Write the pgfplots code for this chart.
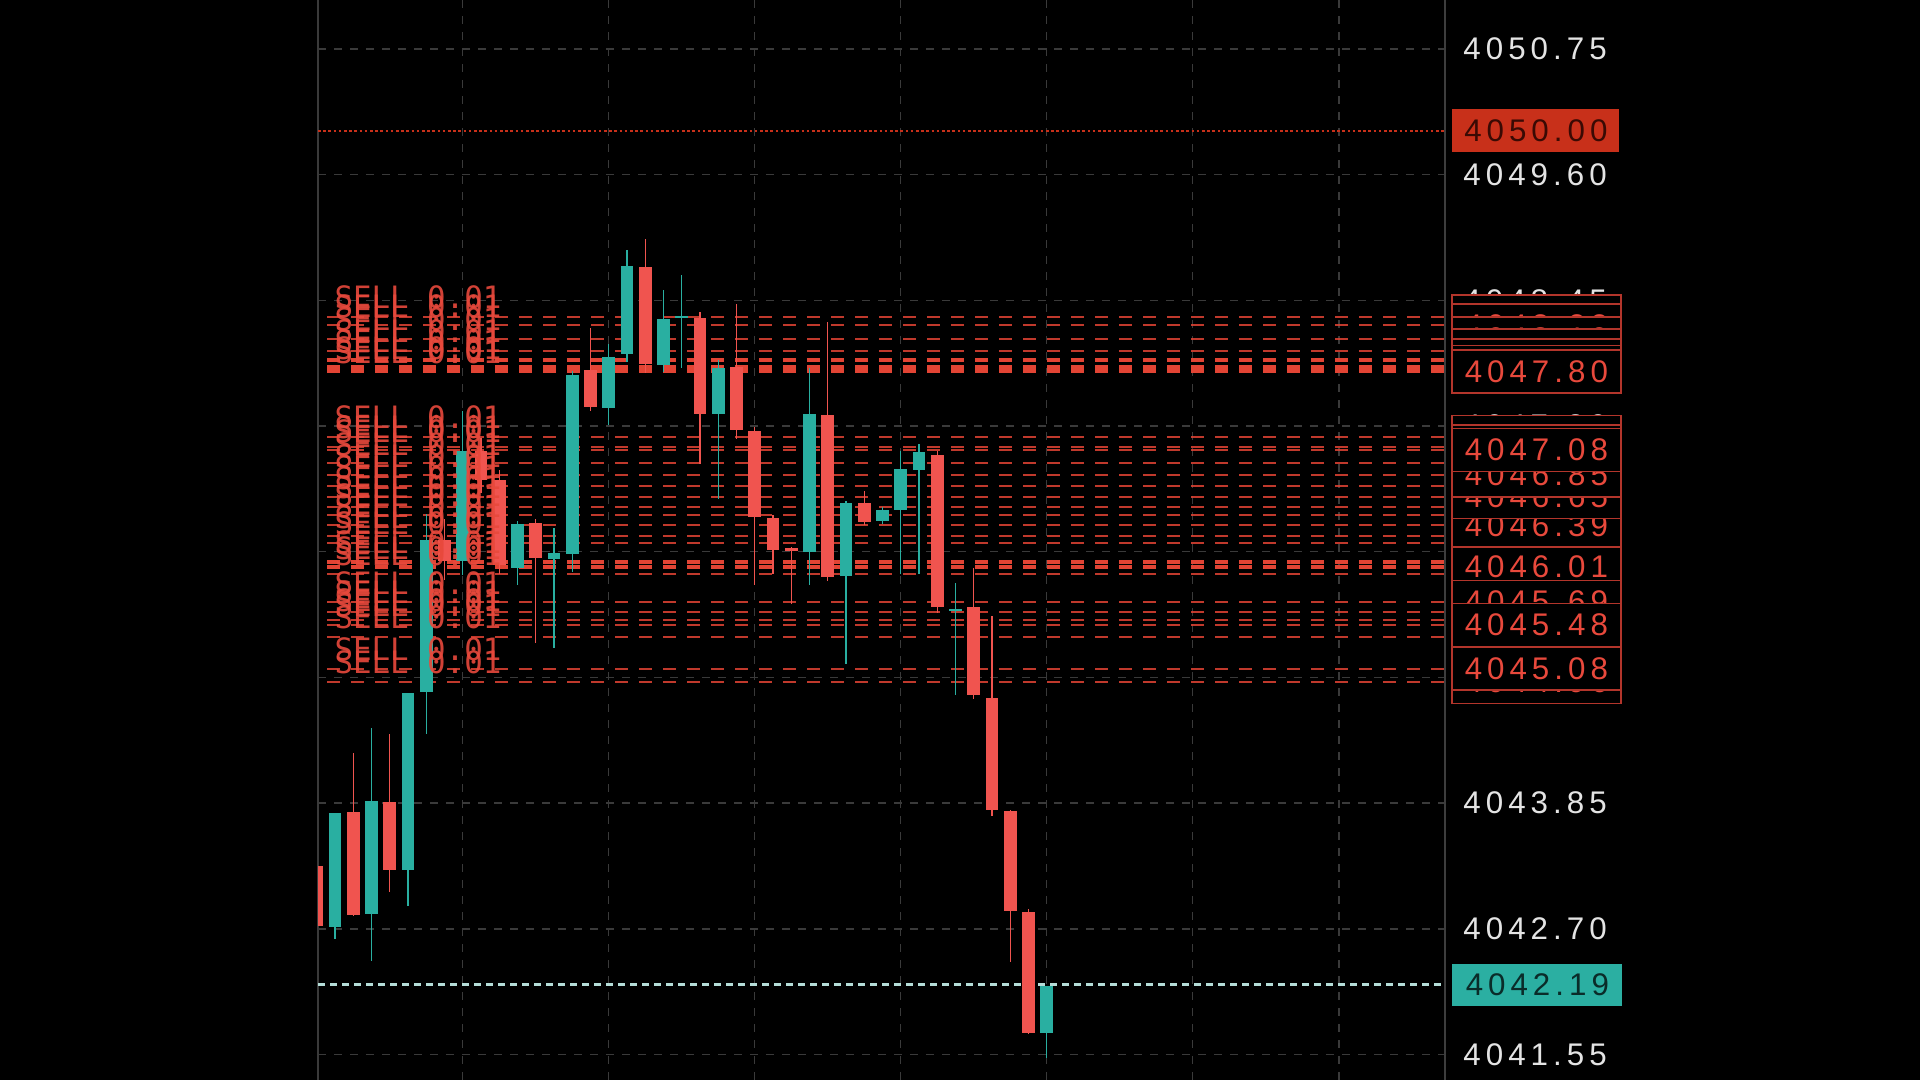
\documentclass[border=0pt]{standalone}
\usepackage{pgfplots}
\pgfplotsset{compat=1.18}
\usepackage{pgfplotstable}
\usepackage{fontspec}
\setmainfont{Liberation Sans}
\newfontfamily\pricefont{Liberation Sans}[LetterSpace=16]
\newfontfamily\sellfont{DejaVu Sans Mono}
\definecolor{bear}{HTML}{F0544F}
\definecolor{bull}{HTML}{29AFA1}
\definecolor{ordc}{HTML}{E24434}
\definecolor{ordtxt}{HTML}{E8493C}
\definecolor{boxedge}{HTML}{B3352B}
\definecolor{gridc}{HTML}{3A3A3A}
\definecolor{tickc}{HTML}{E4E4E4}
\definecolor{sellbox}{HTML}{C8301A}
\definecolor{sellboxtxt}{HTML}{3A0A04}
\definecolor{lastbox}{HTML}{2BAFA2}
\definecolor{lastboxtxt}{HTML}{0A2C29}
\definecolor{lastline}{HTML}{B5DDD8}

% bearish candles: index open high low close
\pgfplotstableread{
x o h l c
0  4043.28 4043.28 4042.73 4042.73
2  4043.78 4044.31 4042.82 4042.84
4  4043.87 4044.49 4043.04 4043.24
7  4046.26 4046.45 4045.90 4046.07
9  4047.08 4047.20 4046.70 4046.81
10 4046.81 4046.90 4045.95 4046.03
12 4046.41 4046.45 4045.32 4046.09
15 4047.81 4048.21 4047.45 4047.47
18 4048.76 4049.03 4047.80 4047.87
21 4048.30 4048.35 4046.96 4047.42
23 4047.84 4048.44 4047.20 4047.26
24 4047.26 4047.30 4045.86 4046.47
25 4046.47 4046.50 4045.96 4046.18
26 4046.19 4046.20 4045.68 4046.16
28 4047.42 4048.27 4045.90 4045.93
30 4046.61 4046.72 4046.40 4046.43
34 4047.04 4047.08 4045.60 4045.65
36 4045.65 4046.00 4044.80 4044.84
37 4044.82 4045.57 4043.74 4043.79
38 4043.78 4043.80 4042.41 4042.86
39 4042.86 4042.89 4041.74 4041.76
}\beartab

% bullish candles
\pgfplotstableread{
x o h l c
1  4042.73 4043.77 4042.62 4043.77
3  4042.84 4044.55 4042.42 4043.87
5  4043.25 4044.87 4042.92 4044.87
6  4044.87 4046.50 4044.49 4046.26
8  4046.07 4047.45 4045.95 4047.08
11 4046.01 4046.45 4045.86 4046.41
13 4046.09 4046.38 4045.28 4046.14
14 4046.14 4047.80 4045.96 4047.78
16 4047.47 4048.06 4047.31 4047.94
17 4047.95 4048.93 4047.90 4048.76
19 4047.87 4048.55 4047.80 4048.29
20 4048.29 4048.70 4047.85 4048.31
22 4047.42 4047.92 4046.65 4047.84
27 4046.16 4047.84 4045.86 4047.42
29 4045.93 4046.62 4045.13 4046.60
31 4046.43 4046.56 4046.40 4046.53
32 4046.54 4047.08 4045.96 4046.91
33 4046.91 4047.14 4045.95 4047.08
35 4045.62 4045.86 4044.84 4045.64
40 4041.76 4042.19 4041.53 4042.19
}\bulltab

\newcommand{\pf}{\pricefont\fontsize{15.65}{18}\selectfont}

\begin{document}
\begin{tikzpicture}
\useasboundingbox (0,0) rectangle (960pt,540pt);
\fill[black] (0,0) rectangle (960pt,540pt);
\begin{axis}[
  at={(159pt,0pt)}, anchor=south west,
  width=563.5pt, height=540pt, scale only axis,
  xmin=0.068, xmax=61.82, ymin=4041.317, ymax=4051.198,
  clip mode=individual,
  axis line style={draw=none},
  xtick={8,16,24,32,40,48,56}, xticklabels={},
  ytick={4041.55,4042.70,4043.85,4045.00,4046.15,4047.30,4048.45,4049.60,4050.75},
  yticklabels={},
  major tick length=0pt,
  xmajorgrids, ymajorgrids,
  grid style={gridc, line width=0.7pt, dash pattern=on 4pt off 4pt},
]
% borders
\draw[gridc, line width=0.6pt] (rel axis cs:0,0) -- (rel axis cs:0,1);
\draw[black!60!white!60!black, line width=0.8pt] (rel axis cs:1,0) -- (rel axis cs:1,1);

% pending SELL order levels
\pgfplotsinvokeforeach{4048.30,4048.22,4048.10,4047.99,4047.20,4047.11,4047.08,4046.96,4046.85,4046.75,4046.65,4046.56,4046.49,4046.39,4046.29,4046.23,4045.95,4045.69,4045.60,4045.53,4045.48,4045.37,4045.08,4044.96}{
  \draw[ordc, line width=1pt, opacity=0.85, dash pattern=on 6.5pt off 5.5pt, dash phase=7.5pt] (axis cs:0.068,#1) -- (axis cs:61.82,#1);
}
\pgfplotsinvokeforeach{4047.90,4047.84,4047.80,4046.06,4046.01}{
  \draw[ordc, line width=2pt, dash pattern=on 6.5pt off 5.5pt, dash phase=7.5pt] (axis cs:0.068,#1) -- (axis cs:61.82,#1);
}

% ask / last price lines
\draw[sellbox, line width=1.2pt, dash pattern=on 1.3pt off 1.3pt] (axis cs:0.068,4050.00) -- (axis cs:61.82,4050.00);
\draw[lastline, line width=1.3pt, dash pattern=on 3.5pt off 2.5pt] (axis cs:0.068,4042.19) -- (axis cs:61.82,4042.19);

% wicks
\addplot[draw=none, forget plot, error bars/.cd, y dir=both, y explicit, error mark=none,
  error bar style={line width=0.6pt, draw=bear}]
  table[x=x, y expr={(\thisrow{h}+\thisrow{l})/2}, y error expr={(\thisrow{h}-\thisrow{l})/2}] {\beartab};
\addplot[draw=none, forget plot, error bars/.cd, y dir=both, y explicit, error mark=none,
  error bar style={line width=0.6pt, draw=bull}]
  table[x=x, y expr={(\thisrow{h}+\thisrow{l})/2}, y error expr={(\thisrow{h}-\thisrow{l})/2}] {\bulltab};
% bodies
\addplot[draw=none, forget plot, error bars/.cd, y dir=both, y explicit, error mark=none,
  error bar style={line width=6.4pt, draw=bear}]
  table[x=x, y expr={(\thisrow{o}+\thisrow{c})/2}, y error expr={abs(\thisrow{o}-\thisrow{c})/2}] {\beartab};
\addplot[draw=none, forget plot, error bars/.cd, y dir=both, y explicit, error mark=none,
  error bar style={line width=6.4pt, draw=bull}]
  table[x=x, y expr={(\thisrow{o}+\thisrow{c})/2}, y error expr={abs(\thisrow{o}-\thisrow{c})/2}] {\bulltab};

% SELL labels
\pgfplotsinvokeforeach{4048.30,4048.22,4048.10,4047.99,4047.90,4047.84,4047.80,4047.20,4047.11,4047.08,4046.96,4046.85,4046.75,4046.65,4046.56,4046.49,4046.39,4046.29,4046.23,4046.06,4046.01,4045.95,4045.69,4045.60,4045.53,4045.48,4045.37,4045.08,4044.96}{
  \node[anchor=base west, inner sep=0pt, text=ordtxt, opacity=0.9, yshift=4pt,
    font=\sellfont\fontsize{15.4}{16}\selectfont] at (axis cs:0.95,#1) {SELL 0.01};
}

% price scale labels
\pgfplotsinvokeforeach{4041.55,4042.70,4043.85,4045.00,4046.15,4047.30,4048.45,4049.60,4050.75}{
  \node[anchor=west, inner sep=0pt, text=tickc, font=\pf] at (axis cs:62.81,#1) {#1};
}

% order price boxes
\pgfplotsinvokeforeach{4048.30,4048.22,4048.10,4047.99,4047.90,4047.84,4047.80,4045.95,4046.06,4046.29,4046.23,4046.01,4046.56,4046.49,4046.39,4046.75,4046.65,4046.85,4047.20,4047.11,4047.08,4045.37,4045.53,4045.60,4045.69,4045.48,4044.96,4045.08}{
  \node[anchor=west, draw=boxedge, line width=0.8pt, fill=black, text=ordtxt,
    minimum width=84.5pt, minimum height=21.5pt, inner sep=0pt, font=\pf] at (axis cs:62.15,#1) {#1};
}

% ask and last price boxes
\node[anchor=west, fill=sellbox, text=sellboxtxt, minimum width=83.5pt, minimum height=21.5pt,
  inner sep=0pt, font=\pf] at (axis cs:62.2,4050.00) {4050.00};
\node[anchor=west, fill=lastbox, text=lastboxtxt, minimum width=85pt, minimum height=21pt,
  inner sep=0pt, font=\pf] at (axis cs:62.2,4042.19) {4042.19};
\end{axis}
\end{tikzpicture}
\end{document}
